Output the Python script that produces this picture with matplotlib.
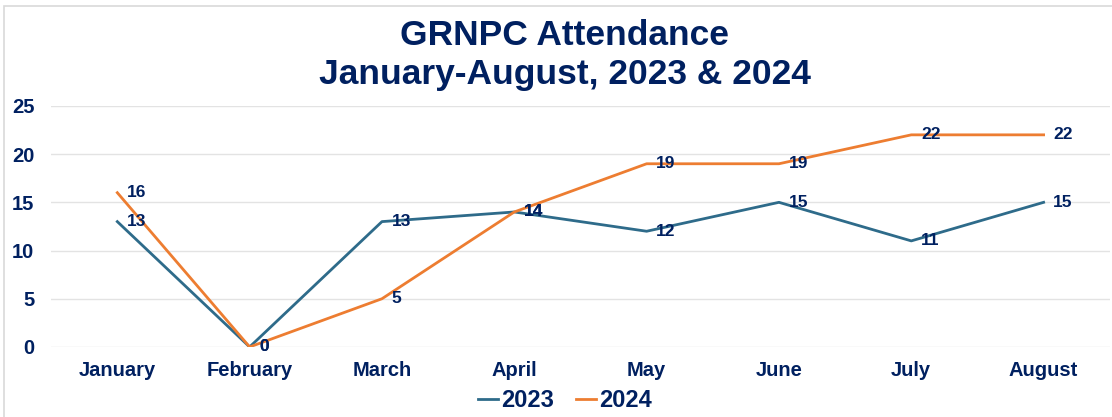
import matplotlib
matplotlib.use("Agg")
import matplotlib.pyplot as plt
from matplotlib.patches import Rectangle

months = ["January", "February", "March", "April", "May", "June", "July", "August"]
att_2023 = [13, 0, 13, 14, 12, 15, 11, 15]
att_2024 = [16, 0, 5, 14, 19, 19, 22, 22]
series_names = ["2023", "2024"]

navy = "#002060"
c2023 = "#2E6B8A"
c2024 = "#ED7D31"

plt.rcParams['font.family'] = ['Liberation Sans', 'DejaVu Sans']

fig = plt.figure(figsize=(11.12, 4.17), dpi=100)
ax = fig.add_axes([0.046, 0.168, 0.952, 0.578])

x = list(range(len(months)))
ax.plot(x, att_2023, color=c2023, lw=2, label=series_names[0], zorder=3)
ax.plot(x, att_2024, color=c2024, lw=2, label=series_names[1], zorder=3)

for xs, vals in [(x, att_2023), (x, att_2024)]:
    for xi, v in zip(xs, vals):
        ax.annotate(str(v), (xi, v), xytext=(7, 0), textcoords="offset points",
                    ha="left", va="center", fontsize=12.5, fontweight="bold", color=navy, zorder=4)

ax.set_xlim(-0.5, 7.5)
ax.set_ylim(0, 25)
ax.set_yticks([0, 5, 10, 15, 20, 25])
ax.set_xticks(x)
ax.set_xticklabels(months)
ax.tick_params(axis='both', length=0, labelsize=14.5, labelcolor=navy)
ax.tick_params(axis='x', pad=10)
for lbl in ax.get_xticklabels() + ax.get_yticklabels():
    lbl.set_fontweight("bold")
ax.tick_params(axis='y', pad=12)
ax.grid(axis='y', color="#E3E3E3", lw=1)
ax.set_axisbelow(True)
for s in ax.spines.values():
    s.set_visible(False)

fig.text(0.508, 0.915, "GRNPC Attendance", ha="center", va="center",
         fontsize=25.5, fontweight="bold", color=navy)
fig.text(0.508, 0.822, "January-August, 2023 & 2024", ha="center", va="center",
         fontsize=25.5, fontweight="bold", color=navy)

leg = fig.legend(loc="center", bbox_to_anchor=(0.508, 0.04), ncol=2, frameon=False,
                 handlelength=0.85, handletextpad=0.15, columnspacing=0.9,
                 prop={'size': 17, 'weight': 'bold'})
for t in leg.get_texts():
    t.set_color(navy)

fig.patches.append(Rectangle((0.004, -0.01), 1.0, 0.995, transform=fig.transFigure,
                             fill=False, edgecolor="#D9D9D9", lw=1.2))

fig.savefig("out.png", dpi=100)
